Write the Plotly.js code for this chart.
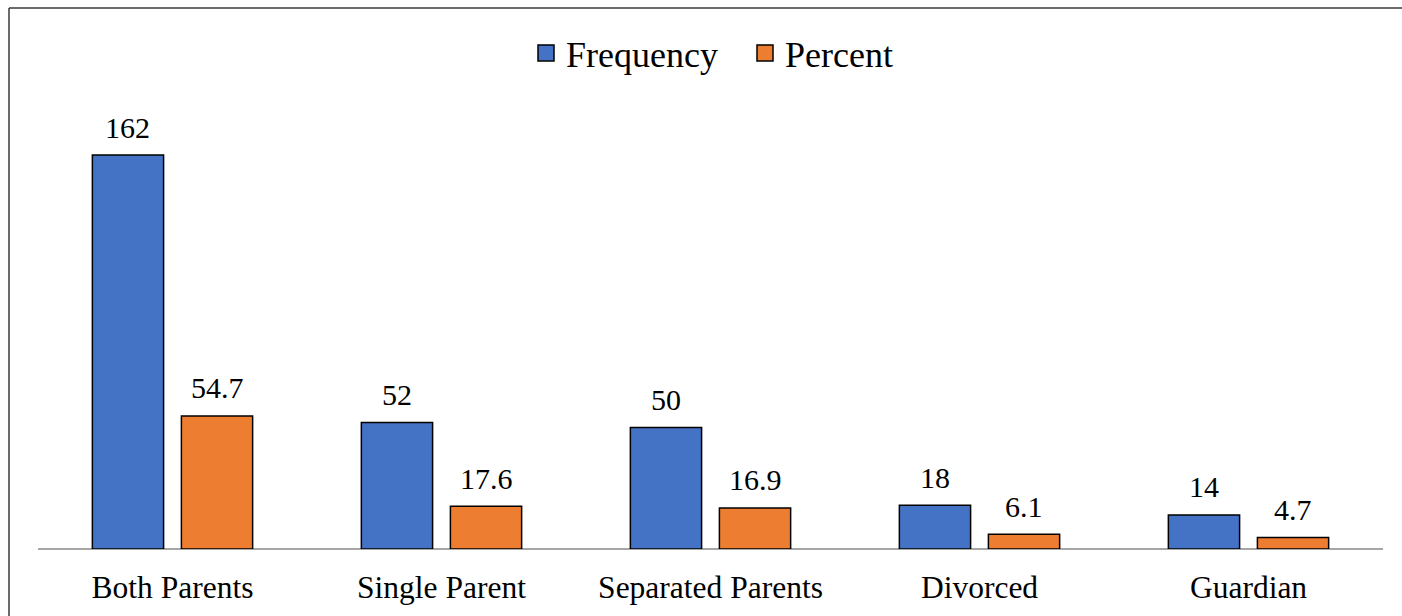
<!DOCTYPE html>
<html>
<head>
<meta charset="utf-8">
<script src="https://cdn.plot.ly/plotly-3.0.1.min.js"></script>
<style>html,body{margin:0;padding:0;background:#fff;}#chart{width:1402px;height:616px;}</style>
</head>
<body>
<div id="chart"></div>
<script>
var categories = ["Both Parents", "Single Parent", "Separated Parents", "Divorced", "Guardian"];
var frequency = [162, 52, 50, 18, 14];
var percent = [54.7, 17.6, 16.9, 6.1, 4.7];
var seriesNames = ["Frequency", "Percent"];
var percentLabels = ["54.7", "17.6", "16.9", "6.1", "4.7"];
var colors = ['#4472C4', '#ED7D31'];

var W = 1402, H = 616;
var mL = 38, mR = 19, mT = 90, mB = 67;
var plotW = W - mL - mR, plotH = H - mT - mB;
var pxPerUnit = (549 - 155) / 162;
var yMax = plotH / pxPerUnit;

var font = "Liberation Serif";

var traces = [
  {type: 'bar', name: seriesNames[0], x: categories, y: frequency, showlegend: false,
   marker: {color: colors[0], line: {color: '#000000', width: 1.5}}, hoverinfo: 'none'},
  {type: 'bar', name: seriesNames[1], x: categories, y: percent, showlegend: false,
   marker: {color: colors[1], line: {color: '#000000', width: 1.5}}, hoverinfo: 'none'},
  {type: 'scatter', mode: 'markers', name: seriesNames[0], x: [null], y: [null], showlegend: true,
   marker: {symbol: 'square', size: 18, color: colors[0], line: {color: '#000', width: 1.5}}, hoverinfo: 'none'},
  {type: 'scatter', mode: 'markers', name: seriesNames[1], x: [null], y: [null], showlegend: true,
   marker: {symbol: 'square', size: 18, color: colors[1], line: {color: '#000', width: 1.5}}, hoverinfo: 'none'}
];

var annotations = [];
var slot = (plotW / categories.length) * (1 - 0.338) / 2;
categories.forEach(function(c, i) {
  annotations.push({x: c, y: frequency[i], xref: 'x', yref: 'y', text: String(frequency[i]),
    showarrow: false, xshift: -slot / 2, yshift: 28, yanchor: 'middle',
    font: {family: font, size: 30, color: '#000'}});
  annotations.push({x: c, y: percent[i], xref: 'x', yref: 'y', text: percentLabels[i],
    showarrow: false, xshift: slot / 2, yshift: 28, yanchor: 'middle',
    font: {family: font, size: 30, color: '#000'}});
});

function px2x(p) { return (p - mL) / plotW; }
function py2y(p) { return (H - mB - p) / plotH; }

var layout = {
  width: W, height: H,
  font: {family: font},
  margin: {l: mL, r: mR, t: mT, b: mB, pad: 0},
  paper_bgcolor: '#ffffff', plot_bgcolor: '#ffffff',
  barmode: 'group', bargap: 0.338, bargroupgap: 0.2,
  showlegend: true,
  legend: {orientation: 'h', x: px2x(526), xanchor: 'left', y: 1 + (mT - 53) / plotH, yanchor: 'middle',
    font: {family: font, size: 36, color: '#000'}, itemwidth: 30, entrywidth: 174, entrywidthmode: 'pixels'},
  xaxis: {type: 'category', showgrid: false, zeroline: false, showline: false, ticks: '',
    ticklabelstandoff: 16,
    tickfont: {family: font, size: 31.5, color: '#000'}, fixedrange: true},
  yaxis: {range: [0, yMax], showgrid: false, zeroline: true, zerolinecolor: '#a6a6a6', zerolinewidth: 1.3,
    showticklabels: false, ticks: '', showline: false, fixedrange: true},
  annotations: annotations,
  shapes: [
    {type: 'line', xref: 'paper', yref: 'paper', x0: px2x(9), x1: px2x(1410), y0: py2y(8), y1: py2y(8),
     line: {color: '#3a3a3a', width: 1.5}},
    {type: 'line', xref: 'paper', yref: 'paper', x0: px2x(9), x1: px2x(9), y0: py2y(8), y1: py2y(620),
     line: {color: '#3a3a3a', width: 1.5}}
  ]
};

Plotly.newPlot('chart', traces, layout, {displayModeBar: false, staticPlot: true});
</script>
</body>
</html>
